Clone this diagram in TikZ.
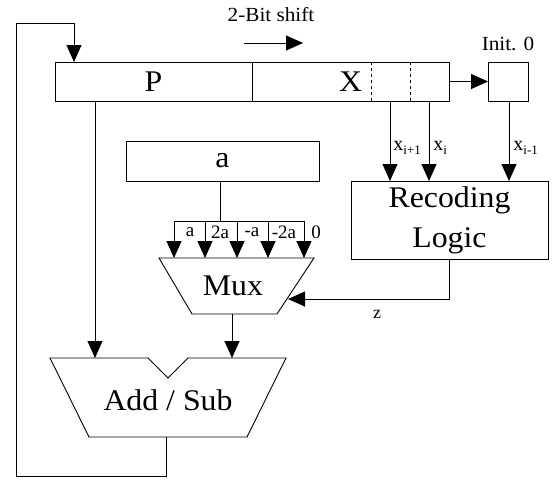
\documentclass[tikz,border=0pt]{standalone}
\usepackage{fontspec}
\setmainfont{Liberation Serif}
\newfontfamily\widefont{Liberation Serif}[FakeStretch=1.06]
\usetikzlibrary{arrows.meta}
\begin{document}
\begin{tikzpicture}[x=1pt,y=-1pt,
  line width=0.9pt,
  box/.style={draw,inner sep=0pt,outer sep=0pt},
  bigtext/.style={font=\widefont\fontsize{30}{40}\selectfont},
  smalltext/.style={font=\widefont\fontsize{20}{22}\selectfont},
  buslabel/.style={font=\fontsize{19}{20}\selectfont,inner sep=0pt},
  xlabel/.style={font=\fontsize{20}{20}\selectfont,inner sep=0pt,anchor=west},
  arr/.style={-{Triangle[length=17pt,width=15pt]}}
]
\useasboundingbox (0,0) rectangle (560,480);

% register
\node[box,bigtext,minimum width=197pt,minimum height=39pt] (P) at (153.5,81.5) {P};
\node[box,bigtext,minimum width=197pt,minimum height=39pt] (X) at (350.5,81.5) {X};
\draw[dashed] (371,62) -- (371,101);
\draw[dashed] (410,62) -- (410,101);
\node[box,minimum width=40pt,minimum height=39pt] (init) at (508,81.5) {};
\node[smalltext] (initlabel) at (508,44) {Init. 0};
\node[smalltext] (shiftlabel) at (271,15) {2-Bit shift};
\coordinate (sh1) at (244,43);
\coordinate (sh2) at (303,43);
\draw[arr] (sh1) -- (sh2);
\draw[arr] (X.east) -- (init.west);

% a box
\node[box,bigtext,minimum width=193pt,minimum height=40pt] (a) at (222.5,161) {a};

% recoding logic
\node[box,bigtext,align=center,minimum width=197pt,minimum height=78pt] (rec) at (449.5,220) {Recoding\\Logic};

% mux
\draw (159,258) -- (314,258) -- (277,314) -- (192,314) -- cycle;
\node[bigtext] (mux) at (233,286) {Mux};
% add/sub
\draw (50,358) -- (148,358) -- (168,378) -- (188,358) -- (286,358) -- (247,437) -- (89,437) -- cycle;
\node[bigtext] (add) at (168,400) {Add / Sub};

% x inputs
\foreach \xx/\nm in {390/xa,429/xb,509/xc}{
  \coordinate (\nm t) at (\xx,101);
  \coordinate (\nm b) at (\xx,181);
  \draw[arr] (\nm t) -- (\nm b);
}
\node[xlabel] (lxa) at (393,148) {x\raisebox{-0.5ex}{\fontsize{13}{13}\selectfont i+1}};
\node[xlabel] (lxb) at (433,148) {x\raisebox{-0.5ex}{\fontsize{13}{13}\selectfont i}};
\node[xlabel] (lxc) at (513,148) {x\raisebox{-0.5ex}{\fontsize{13}{13}\selectfont i-1}};

% a bus
\coordinate (abus) at (220,221);
\draw (a.south -| abus) -- (abus);
\coordinate (busL) at (174,221);
\coordinate (busR) at (304,221);
\draw (busL) -- (busR);
\foreach \xx in {174,205,237,268,304}{
  \draw[arr] (\xx,221) -- (\xx,258);
}
\node[buslabel] (la) at (190,232) {a};
\node[buslabel] (l2a) at (220,232) {2a};
\node[buslabel] (lma) at (252,232) {-a};
\node[buslabel] (lm2a) at (284,232) {-2a};
\node[buslabel] (l0) at (316,232) {0};

% z
\coordinate (zc) at (449,299);
\coordinate (zt) at (288,299);
\draw[arr] (rec.south -| zc) -- (zc) -- (zt);
\node[font=\fontsize{18}{18}\selectfont] (zl) at (377,314) {z};

% P to add, mux to add
\coordinate (pa) at (95,101);
\coordinate (pb) at (95,358);
\draw[arr] (pa) -- (pb);
\coordinate (ma) at (232,314);
\coordinate (mb) at (232,358);
\draw[arr] (ma) -- (mb);

% feedback loop
\coordinate (l1) at (166,437);
\coordinate (l2) at (166,476);
\coordinate (l3) at (16,476);
\coordinate (l4) at (16,23);
\coordinate (l5) at (74,23);
\coordinate (l6) at (74,62);
\draw[arr] (l1) -- (l2) -- (l3) -- (l4) -- (l5) -- (l6);
\end{tikzpicture}
\end{document}
